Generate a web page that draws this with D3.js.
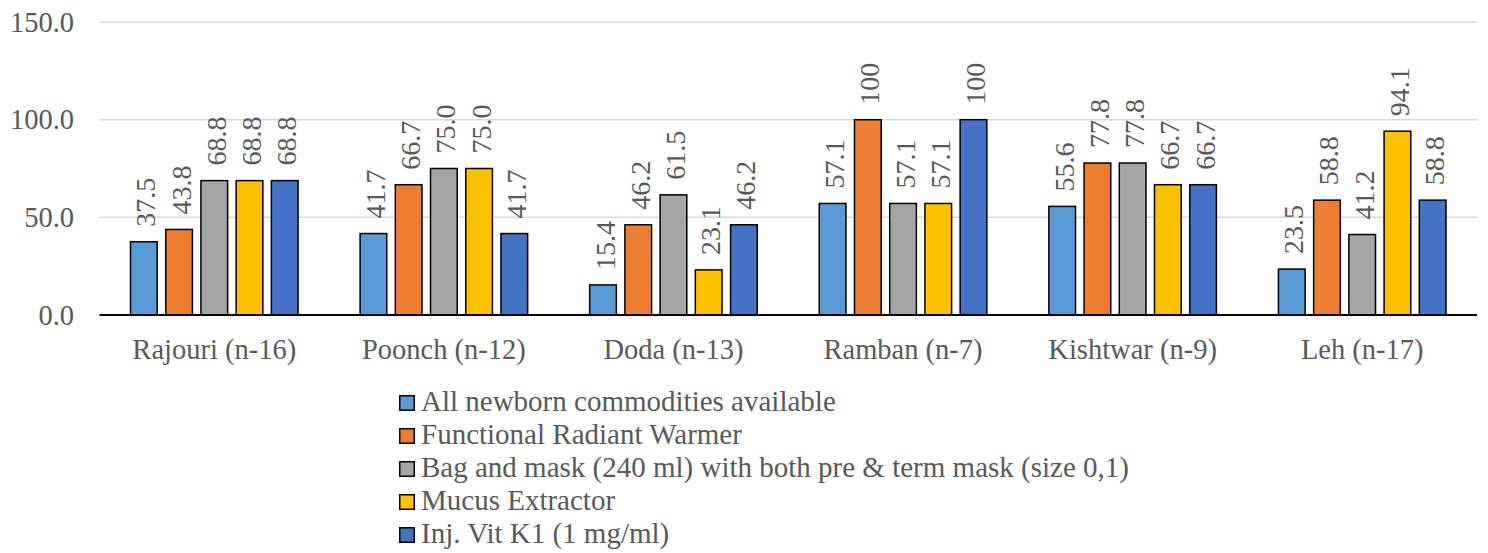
<!DOCTYPE html>
<html>
<head>
<meta charset="utf-8">
<script src="https://cdn.jsdelivr.net/npm/d3@7"></script>
<style>
  html, body { margin: 0; padding: 0; background: #fff; }
  svg { display: block; }
</style>
</head>
<body>
<svg id="chart" width="1488" height="553"></svg>
<script>
// District groups (with number of facilities assessed)
const categories = ["Rajouri (n-16)", "Poonch (n-12)", "Doda (n-13)", "Ramban (n-7)", "Kishtwar (n-9)", "Leh (n-17)"];

// Newborn care items, one series each
const seriesNames = [
  "All newborn commodities available",
  "Functional Radiant Warmer",
  "Bag and mask (240 ml) with both pre & term mask (size 0,1)",
  "Mucus Extractor",
  "Inj. Vit K1 (1 mg/ml)"
];

// Percent of facilities, per district, for each item
const allCommodities = [37.5, 41.7, 15.4, 57.1, 55.6, 23.5];
const radiantWarmer  = [43.8, 66.7, 46.2, 100, 77.8, 58.8];
const bagAndMask     = [68.8, 75.0, 61.5, 57.1, 77.8, 41.2];
const mucusExtractor = [68.8, 75.0, 23.1, 57.1, 66.7, 94.1];
const vitK1          = [68.8, 41.7, 46.2, 100, 66.7, 58.8];

// Printed labels (values of 100 are shown without a decimal)
const labelText = v => (v === 100 ? "100" : v.toFixed(1));

const yTicks = [0, 50, 100, 150];
const colors = ["#5B9BD5", "#ED7D31", "#A5A5A5", "#FFC000", "#4472C4"];

const seriesValues = [allCommodities, radiantWarmer, bagAndMask, mucusExtractor, vitK1];

const FONT = '"Liberation Serif"';
const TEXT_COLOR = "#595959";

const svg = d3.select("#chart");

const plot = { left: 99.5, right: 1477, top: 22, bottom: 315 };

const y = d3.scaleLinear().domain([0, 150]).range([plot.bottom, plot.top]);

const x0 = d3.scaleBand()
  .domain(categories)
  .range([plot.left, plot.right])
  .paddingInner(0.233)
  .paddingOuter(0.1165);

const x1 = d3.scaleBand()
  .domain(seriesNames)
  .range([0, x0.bandwidth()])
  .paddingInner(0.2)
  .paddingOuter(0.1);

const color = d3.scaleOrdinal().domain(seriesNames).range(colors);

const styleText = sel => sel
  .style("font-family", FONT)
  .style("fill", TEXT_COLOR);

// Horizontal gridlines
svg.append("g")
  .selectAll("line")
  .data(yTicks.filter(t => t !== 0))
  .join("line")
  .attr("x1", plot.left)
  .attr("x2", plot.right)
  .attr("y1", d => y(d))
  .attr("y2", d => y(d))
  .attr("stroke", "#d9d9d9")
  .attr("stroke-width", 1.5);

// Y axis labels
const yAxis = d3.axisLeft(y).tickValues(yTicks).tickFormat(d3.format(".1f")).tickSize(0).tickPadding(0);
svg.append("g")
  .attr("transform", `translate(74,0)`)
  .call(yAxis)
  .call(g => g.select(".domain").remove())
  .call(g => g.selectAll("text")
    .call(styleText)
    .style("font-size", "28.5px")
    .attr("dy", "0.32em"));

// Bars grouped by district
const data = categories.map((c, ci) => ({
  category: c,
  values: seriesNames.map((s, si) => ({ series: s, value: seriesValues[si][ci] }))
}));

const groups = svg.append("g")
  .selectAll("g")
  .data(data)
  .join("g")
  .attr("transform", d => `translate(${x0(d.category)},0)`);

groups.selectAll("rect")
  .data(d => d.values)
  .join("rect")
  .attr("x", d => x1(d.series) + 0.75)
  .attr("width", x1.bandwidth() - 1.5)
  .attr("y", d => y(d.value))
  .attr("height", d => y(0) - y(d.value))
  .attr("fill", d => color(d.series))
  .attr("stroke", "#000")
  .attr("stroke-width", 1.5);

// Value labels, rotated to read upward
groups.selectAll("text.val")
  .data(d => d.values)
  .join("text")
  .attr("class", "val")
  .attr("transform", d => {
    const cx = x1(d.series) + x1.bandwidth() / 2 + 11.5;
    const cy = y(d.value) - 15;
    return `translate(${cx},${cy}) rotate(-90)`;
  })
  .attr("text-anchor", "start")
  .call(styleText)
  .style("font-size", "28px")
  .text(d => labelText(d.value));

// Baseline
svg.append("line")
  .attr("x1", plot.left)
  .attr("x2", plot.right)
  .attr("y1", y(0))
  .attr("y2", y(0))
  .attr("stroke", "#000")
  .attr("stroke-width", 2);

// Category labels
const xAxis = d3.axisBottom(x0).tickSize(0).tickPadding(0);
svg.append("g")
  .attr("transform", `translate(0,359)`)
  .call(xAxis)
  .call(g => g.select(".domain").remove())
  .call(g => g.selectAll("text")
    .call(styleText)
    .style("font-size", "28.5px")
    .attr("dy", 0)
    .attr("y", 0));

// Legend
const legend = svg.append("g").attr("transform", "translate(399,395)");
const rows = legend.selectAll("g")
  .data(seriesNames)
  .join("g")
  .attr("transform", (d, i) => `translate(0,${i * 33})`);

rows.append("rect")
  .attr("x", 0.75)
  .attr("y", 0.75)
  .attr("width", 14.5)
  .attr("height", 14.5)
  .attr("fill", d => color(d))
  .attr("stroke", "#000")
  .attr("stroke-width", 1.5);

rows.append("text")
  .attr("x", 22)
  .attr("y", 16)
  .call(styleText)
  .style("font-size", "29px")
  .text(d => d);
</script>
</body>
</html>
